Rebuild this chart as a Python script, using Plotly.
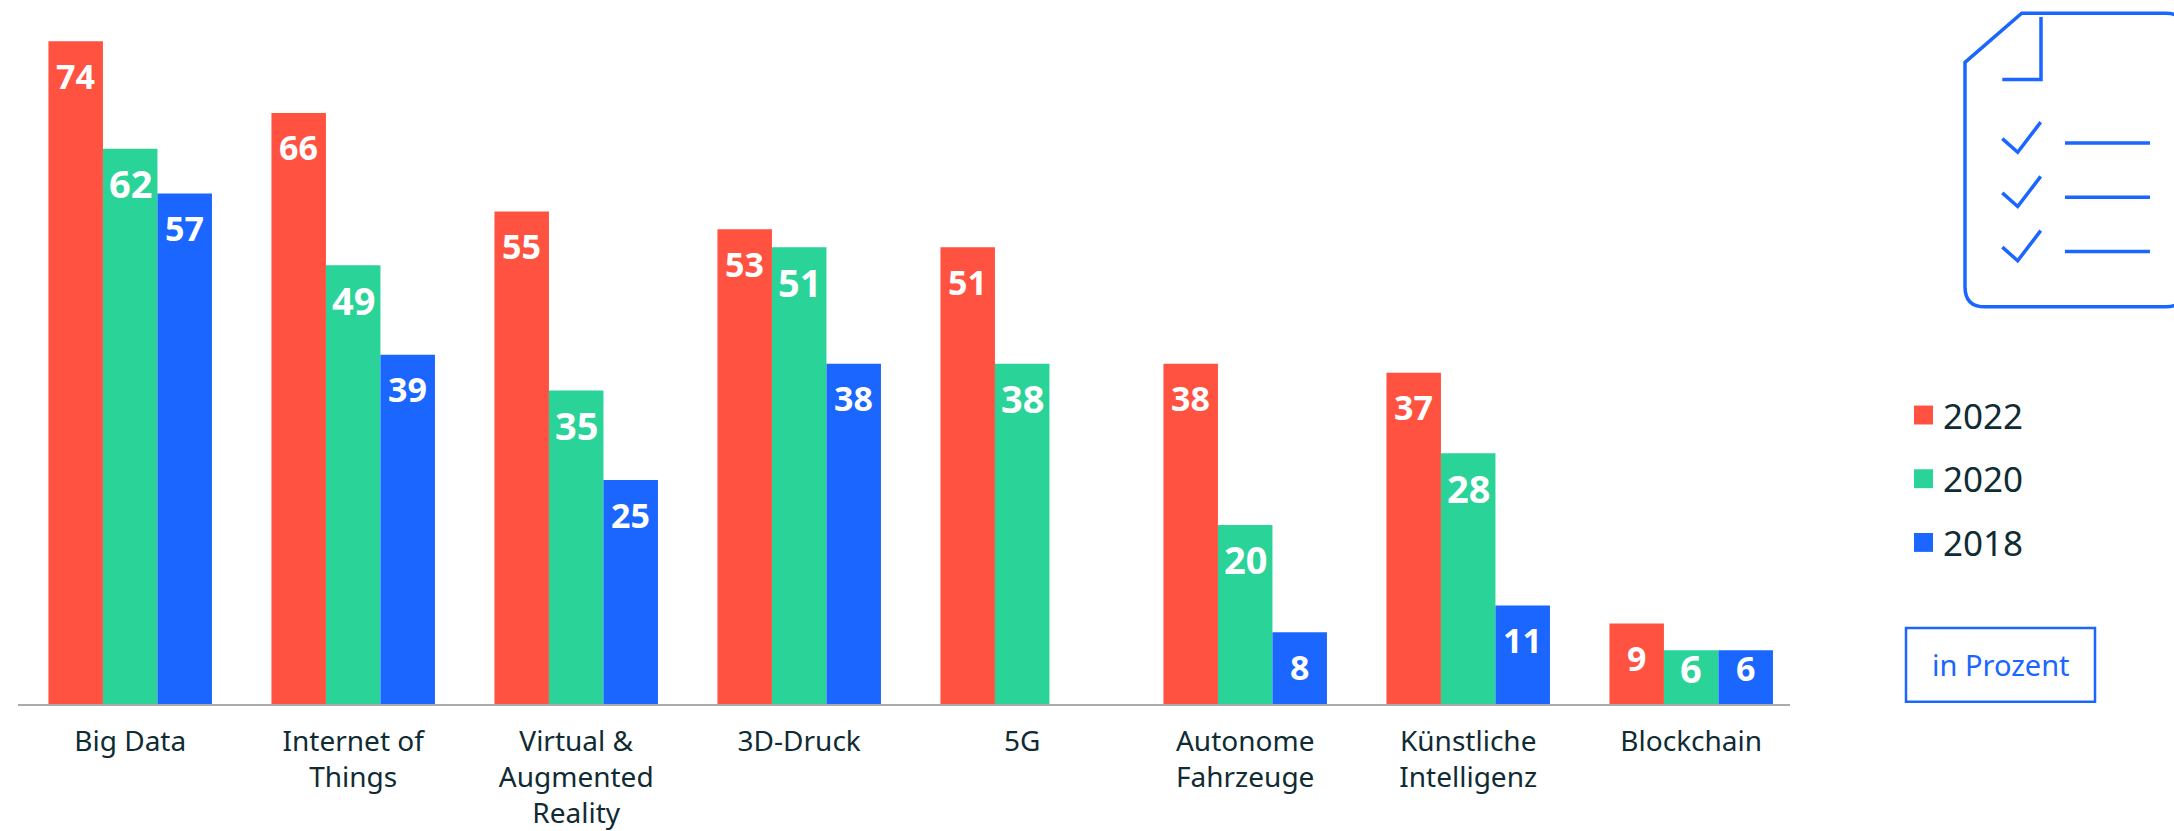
import plotly.graph_objects as go

categories = ["Big Data", "Internet of Things", "Virtual & Augmented Reality", "3D-Druck", "5G",
              "Autonome Fahrzeuge", "Künstliche Intelligenz", "Blockchain"]
tick_labels = ["Big Data", "Internet of<br>Things", "Virtual &<br>Augmented<br>Reality", "3D-Druck", "5G",
               "Autonome<br>Fahrzeuge", "Künstliche<br>Intelligenz", "Blockchain"]
values_2022 = [74, 66, 55, 53, 51, 38, 37, 9]
values_2020 = [62, 49, 35, 51, 38, 20, 28, 6]
values_2018 = [57, 39, 25, 38, None, 8, 11, 6]
series_names = ["2022", "2020", "2018"]

RED, GREEN, BLUE = "#FF5241", "#2AD398", "#1A66FF"
INK = "#0F2B33"
FONT = "Noto Sans"
W, H = 2174, 831
L, R, B, T = 18, 1790, 713, 0
PERIOD = 223.0
X0 = 130.2
BAR = 54.5
PX_PER_UNIT = 9.07
SY = 1.008


def px(x):
    return (x - L) / (R - L)


def py(y):
    return (B - y * SY) / (B - T)


fig = go.Figure()
series = [(series_names[0], values_2022, RED, 34), (series_names[1], values_2020, GREEN, 38),
          (series_names[2], values_2018, BLUE, 34)]
for name, vals, col, _ in series:
    fig.add_bar(name=name, x=categories, y=vals, marker=dict(color=col, line_width=0), showlegend=False,
                hovertemplate="%{x}: %{y}<extra>" + name + "</extra>")

annotations = []
for i, (name, vals, col, size) in enumerate(series):
    for cat, v in zip(categories, vals):
        if v is None:
            continue
        annotations.append(dict(x=cat, y=v, xref="x", yref="y", text=str(v), showarrow=False,
                                xshift=(i - 1) * BAR, yshift=-34.5 if v > 6 else -18,
                                yanchor="middle", xanchor="center",
                                font=dict(family=FONT, size=size, color="white", weight="bold")))

# legend
for name, col, yc in zip(series_names, [RED, GREEN, BLUE], [417, 481, 545]):
    annotations.append(dict(x=px(1941), y=py(yc), xref="paper", yref="paper", text=name, showarrow=False,
                            xanchor="left", yanchor="middle", font=dict(family=FONT, size=35, color=INK)))
annotations.append(dict(x=px(2001), y=py(668), xref="paper", yref="paper", text="in Prozent", showarrow=False,
                        xanchor="center", yanchor="middle", font=dict(family=FONT, size=29, color=BLUE)))

shapes = []


def pshape(path, width=3.5, fill=None):
    shapes.append(dict(type="path", path=path, xref="paper", yref="paper",
                       line=dict(color=BLUE, width=width), fillcolor=fill or "rgba(0,0,0,0)"))


def P(x, y):
    return f"{px(x):.5f},{py(y):.5f}"


for col, yc in zip([RED, GREEN, BLUE], [417, 481, 545]):
    shapes.append(dict(type="rect", xref="paper", yref="paper", x0=px(1914), x1=px(1933), y0=py(yc - 9.5), y1=py(yc + 9.5),
                       fillcolor=col, line_width=0))
shapes.append(dict(type="rect", xref="paper", yref="paper", x0=px(1906), x1=px(2095), y0=py(631), y1=py(705),
                   fillcolor="rgba(0,0,0,0)", line=dict(color=BLUE, width=2.5)))

# document icon
pshape(f"M{P(2180,20)} Q{P(2178,13.3)} {P(2166,13.3)} L{P(2021.7,13.3)} L{P(1965,62.7)} L{P(1965,288)} "
       f"Q{P(1965,308.3)} {P(1985,308.3)} L{P(2166,308.3)} Q{P(2178,308.3)} {P(2180,301)}")
pshape(f"M{P(2041,17)} L{P(2041,80)} L{P(2002.3,80)}")
for dy, ly in zip([0, 54.5, 109], [143.7, 198.3, 252.7]):
    pshape(f"M{P(2002.3,139.3+dy)} L{P(2017.7,153+dy)} L{P(2040.7,122.7+dy)}")
    pshape(f"M{P(2065,ly)} L{P(2150,ly)}")

fig.update_layout(
    width=W, height=H, margin=dict(l=L, r=W - R, t=T, b=H - B, pad=0),
    barmode="group", bargap=1 - 3 * BAR / PERIOD, bargroupgap=0,
    paper_bgcolor="white", plot_bgcolor="white",
    font=dict(family=FONT, color=INK),
    annotations=annotations, shapes=shapes,
    xaxis=dict(type="category", categoryorder="array", categoryarray=categories,
               range=[(L - X0) / PERIOD, (R - X0) / PERIOD],
               tickmode="array", tickvals=categories, ticktext=tick_labels,
               tickfont=dict(family=FONT, size=28, color=INK), ticks="", ticklabelstandoff=11,
               showline=True, linecolor="#ABABAB", linewidth=2, showgrid=False, zeroline=False, tickangle=0),
    yaxis=dict(range=[0, (B - T) / PX_PER_UNIT], visible=False),
)

fig.write_html("out.html", config={"displayModeBar": False},
               post_script="document.body.style.margin='0';document.documentElement.style.overflow='hidden';")
